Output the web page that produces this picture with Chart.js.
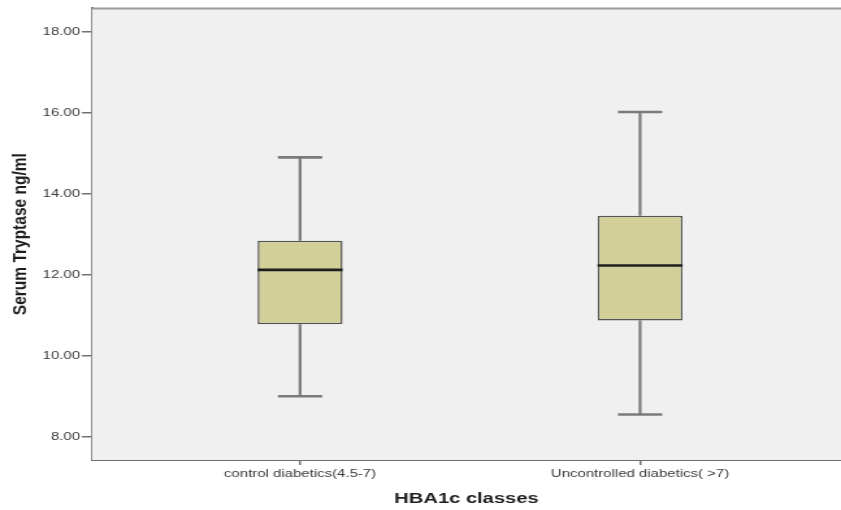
<!DOCTYPE html>
<html>
<head>
<meta charset="utf-8">
<script src="https://cdn.jsdelivr.net/npm/chart.js@4.4.1/dist/chart.umd.min.js"></script>
<style>
  html, body { margin: 0; padding: 0; background: #ffffff; overflow: hidden; }
  #wrap { width: 647px; height: 510px; transform: scaleX(1.2998); transform-origin: 0 0; }
</style>
</head>
<body>
<div id="wrap"><canvas id="chart" width="647" height="510"></canvas></div>
<script>
// HBA1c classes and the five-number summaries of serum tryptase (ng/ml)
const categories   = ['control diabetics(4.5-7)', 'Uncontrolled diabetics( >7)'];
const minValues    = [9.01, 8.56];
const q1Values     = [10.79, 10.88];
const medianValues = [12.13, 12.24];
const q3Values     = [12.85, 13.47];
const maxValues    = [14.91, 16.03];
const yTickValues  = [8, 10, 12, 14, 16, 18];

const FONT = "'Liberation Sans', Arial, sans-serif";
const CAP_HALF = 0.065;   // whisker cap half-width, in category units

const boxData = categories.map((c, i) => ({ x: i + 1, y: [q1Values[i], q3Values[i]] }));

const boxPlotParts = {
  id: 'boxPlotParts',
  beforeDatasetsDraw(chart) {
    const { ctx, chartArea: a, scales: { x, y } } = chart;
    ctx.save();
    // panel background
    ctx.fillStyle = '#f0f0f0';
    ctx.fillRect(a.left, a.top, a.right - a.left, a.bottom - a.top);
    // whiskers and caps
    ctx.strokeStyle = '#7a7a7a';
    ctx.lineCap = 'butt';
    categories.forEach((c, i) => {
      const cx = x.getPixelForValue(i + 1);
      const l = x.getPixelForValue(i + 1 - CAP_HALF);
      const r = x.getPixelForValue(i + 1 + CAP_HALF);
      ctx.lineWidth = 2.2;
      ctx.beginPath();
      ctx.moveTo(cx, y.getPixelForValue(maxValues[i]));
      ctx.lineTo(cx, y.getPixelForValue(q3Values[i]));
      ctx.moveTo(cx, y.getPixelForValue(q1Values[i]));
      ctx.lineTo(cx, y.getPixelForValue(minValues[i]));
      ctx.stroke();
      ctx.lineWidth = 2.6;
      ctx.beginPath();
      ctx.moveTo(l, y.getPixelForValue(maxValues[i]));
      ctx.lineTo(r, y.getPixelForValue(maxValues[i]));
      ctx.moveTo(l, y.getPixelForValue(minValues[i]));
      ctx.lineTo(r, y.getPixelForValue(minValues[i]));
      ctx.stroke();
    });
    ctx.restore();
  },
  afterDatasetsDraw(chart) {
    const { ctx, scales: { x, y } } = chart;
    const meta = chart.getDatasetMeta(0);
    ctx.save();
    ctx.strokeStyle = '#1e1e1e';
    ctx.lineWidth = 2.6;
    categories.forEach((c, i) => {
      const bar = meta.data[i];
      const half = bar.width / 2;
      const ym = y.getPixelForValue(medianValues[i]);
      ctx.beginPath();
      ctx.moveTo(bar.x - half, ym);
      ctx.lineTo(bar.x + half, ym);
      ctx.stroke();
    });
    ctx.restore();
  },
  afterDraw(chart) {
    const { ctx, chartArea: a } = chart;
    ctx.save();
    ctx.strokeStyle = '#9a9a9a';
    ctx.lineWidth = 2;
    ctx.beginPath();
    ctx.moveTo(a.left, a.top);
    ctx.lineTo(a.right, a.top);
    ctx.stroke();
    ctx.restore();
  }
};

new Chart(document.getElementById('chart'), {
  type: 'bar',
  data: {
    datasets: [{
      data: boxData,
      backgroundColor: '#d3cf98',
      borderColor: '#555555',
      borderWidth: 1.5,
      borderSkipped: false,
      barPercentage: 0.25,
      categoryPercentage: 1.0
    }]
  },
  plugins: [boxPlotParts],
  options: {
    responsive: false,
    animation: false,
    layout: { padding: { top: 5, right: 0, left: 0, bottom: 0 } },
    plugins: { legend: { display: false }, tooltip: { enabled: false } },
    scales: {
      x: {
        type: 'linear',
        offset: false,
        min: 0.388,
        max: 2.591,
        afterBuildTicks(scale) { scale.ticks = categories.map((c, i) => ({ value: i + 1 })); },
        afterFit(scale) { scale.height = 50; },
        ticks: {
          autoSkip: false,
          maxRotation: 0,
          padding: 2,
          color: '#3a3a3a',
          font: { family: FONT, size: 11.5 },
          callback: (v) => categories[Math.round(v) - 1] || ''
        },
        grid: { display: true, offset: false, drawOnChartArea: false, drawTicks: true, tickLength: 5, color: '#707070', lineWidth: 1.5 },
        border: { display: true, color: '#707070', width: 2 },
        title: {
          display: true,
          text: 'HBA1c classes',
          color: '#1e1e1e',
          font: { family: FONT, size: 15.5, weight: 'bold' },
          padding: { top: 0, bottom: 1.5 }
        }
      },
      y: {
        min: 7.436,
        max: 18.588,
        afterBuildTicks(scale) { scale.ticks = yTickValues.map(v => ({ value: v })); },
        afterFit(scale) { scale.width = 70.77; },
        ticks: {
          padding: 1.5,
          color: '#3a3a3a',
          font: { family: FONT, size: 11.5 },
          callback: (v) => Number(v).toFixed(2)
        },
        grid: { display: true, drawOnChartArea: false, drawTicks: true, tickLength: 7.7, color: '#707070', lineWidth: 1.5 },
        border: { display: true, color: '#707070', width: 2 },
        title: {
          display: true,
          text: 'Serum Tryptase ng/ml',
          color: '#1e1e1e',
          font: { family: FONT, size: 15.5, weight: 'bold' },
          padding: { top: 6.2, bottom: 0 }
        }
      }
    }
  }
});
</script>
</body>
</html>
